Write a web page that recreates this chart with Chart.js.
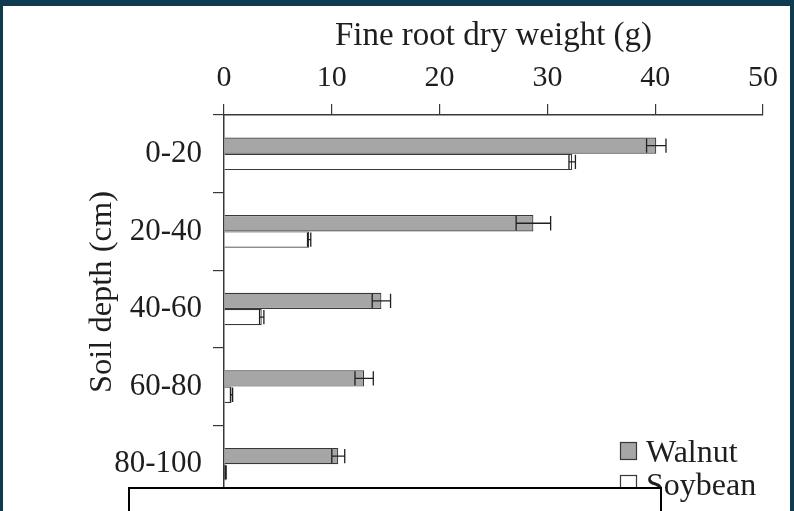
<!DOCTYPE html>
<html>
<head>
<meta charset="utf-8">
<script src="https://cdn.jsdelivr.net/npm/chart.js@4.4.1/dist/chart.umd.min.js"></script>
<style>
  html, body { margin: 0; padding: 0; }
  body { width: 794px; height: 511px; background: #103a4f; position: relative; overflow: hidden; }
  #paper { position: absolute; left: 3px; top: 6px; right: 4px; bottom: 0; background: #fff; }
  #wrap { position: absolute; left: 0; top: 0; width: 794px; height: 511px; }
  #cover { position: absolute; left: 128px; top: 487px; width: 530px; height: 40px; background: #fff; border: 2px solid #000; }
</style>
</head>
<body>
<div id="paper"></div>
<div id="wrap"><canvas id="rootChart"></canvas></div>
<div id="cover"></div>
<script>
const depths = ['0-20', '20-40', '40-60', '60-80', '80-100'];
const walnut = [40.1, 28.7, 14.6, 13.0, 10.6];
const walnutErr = [0.9, 1.6, 0.85, 0.85, 0.6];
const soybean = [32.3, 7.9, 3.5, 0.7, 0.15];
const soybeanErr = [0.3, 0.15, 0.2, 0.1, 0.05];
const xTicks = [0, 10, 20, 30, 40, 50];

const serif = '"Liberation Serif", "Times New Roman", serif';
const ink = '#1e1e1e';
const lineCol = '#383838';

// error bars + legend + y title drawn on top of the bars
const extras = {
    id: 'extras',
    afterDatasetsDraw(chart) {
        const ctx = chart.ctx;
        const x = chart.scales.x;
        ctx.save();
        ctx.strokeStyle = '#202020';
        ctx.lineWidth = 1.3;
        chart.data.datasets.forEach((ds, i) => {
            const meta = chart.getDatasetMeta(i);
            meta.data.forEach((bar, j) => {
                const v = ds.data[j], e = ds.errors[j];
                const x1 = x.getPixelForValue(v - e);
                const x2 = x.getPixelForValue(v + e);
                const h = bar.height / 2 - 1;
                ctx.beginPath();
                ctx.moveTo(x1, bar.y); ctx.lineTo(x2, bar.y);
                ctx.moveTo(x1, bar.y - h); ctx.lineTo(x1, bar.y + h);
                ctx.moveTo(x2, bar.y - h); ctx.lineTo(x2, bar.y + h);
                ctx.stroke();
            });
        });
        ctx.restore();
    },
    afterDraw(chart) {
        const ctx = chart.ctx;
        ctx.save();
        // legend
        ctx.font = '32px ' + serif;
        ctx.textBaseline = 'alphabetic';
        ctx.textAlign = 'left';
        chart.data.datasets.forEach((ds, i) => {
            const top = 442 + i * 33;
            ctx.fillStyle = ds.backgroundColor;
            ctx.strokeStyle = lineCol;
            ctx.lineWidth = 1.2;
            ctx.fillRect(620.5, top + 0.5, 16, 17);
            ctx.strokeRect(620.5, top + 0.5, 16, 17);
            ctx.fillStyle = ink;
            ctx.fillText(ds.label, 646, top + 20);
        });
        // y axis title
        ctx.translate(111, 292);
        ctx.rotate(-Math.PI / 2);
        ctx.textAlign = 'center';
        ctx.font = '32.5px ' + serif;
        ctx.fillText('Soil depth (cm)', 0, 0);
        ctx.restore();
    }
};

const data = {
    labels: depths,
    datasets: [{
        label: 'Walnut',
        data: walnut,
        errors: walnutErr,
        backgroundColor: '#a6a6a6',
        borderColor: lineCol,
        borderWidth: 1.2
    }, {
        label: 'Soybean',
        data: soybean,
        errors: soybeanErr,
        backgroundColor: '#ffffff',
        borderColor: lineCol,
        borderWidth: 1.2
    }]
};

const config = {
    type: 'bar',
    data: data,
    options: {
        indexAxis: 'y',
        responsive: true,
        maintainAspectRatio: false,
        animation: false,
        categoryPercentage: 0.42,
        barPercentage: 1.0,
        layout: { padding: { left: 0, top: 0, right: 31, bottom: 8 } },
        plugins: {
            legend: { display: false },
            tooltip: { enabled: false }
        },
        scales: {
            x: {
                position: 'top',
                min: 0,
                max: 50,
                afterBuildTicks: s => { s.ticks = xTicks.map(v => ({ value: v })); },
                afterFit: s => { s.height = 115; s.paddingLeft = 0; s.paddingRight = 0; },
                ticks: {
                    color: ink,
                    font: { family: serif, size: 30 },
                    padding: 8,
                    maxRotation: 0
                },
                grid: {
                    drawOnChartArea: false,
                    tickLength: 11,
                    color: lineCol,
                    lineWidth: 1.2
                },
                border: { color: lineCol, width: 1.5 },
                title: {
                    display: true,
                    text: 'Fine root dry weight (g)',
                    color: ink,
                    font: { family: serif, size: 33 },
                    padding: { top: 17, bottom: 0 }
                }
            },
            y: {
                offset: true,
                afterFit: s => { s.width = 224; s.paddingTop = 0; s.paddingBottom = 0; },
                ticks: {
                    color: ink,
                    font: { family: serif, size: 31 },
                    padding: 11
                },
                grid: {
                    offset: true,
                    drawOnChartArea: false,
                    tickLength: 11,
                    color: lineCol,
                    lineWidth: 1.2
                },
                border: { color: lineCol, width: 1.5 }
            }
        }
    },
    plugins: [extras]
};

window.onload = function() {
    const ctx = document.getElementById('rootChart').getContext('2d');
    new Chart(ctx, config);
};
</script>
</body>
</html>
